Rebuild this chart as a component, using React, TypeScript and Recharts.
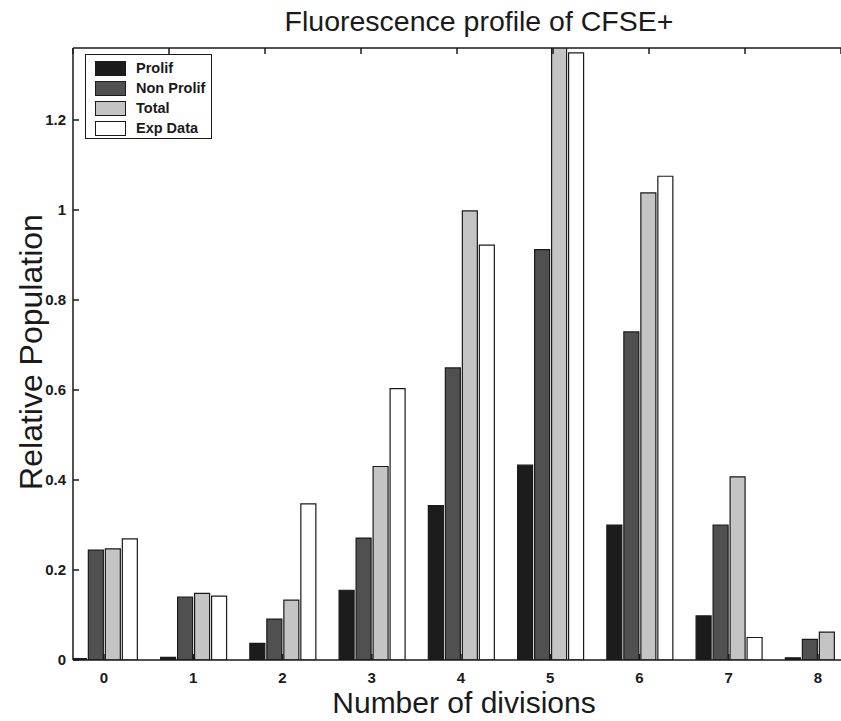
import { BarChart, Bar, XAxis, YAxis } from "recharts";

// values
const divisions = [0, 1, 2, 3, 4, 5, 6, 7, 8];
const prolif = [0.003, 0.006, 0.037, 0.155, 0.343, 0.433, 0.3, 0.098, 0.005];
const nonProlif = [0.244, 0.14, 0.091, 0.271, 0.649, 0.912, 0.729, 0.3, 0.046];
const total = [0.247, 0.148, 0.133, 0.43, 0.998, 1.38, 1.038, 0.407, 0.062];
const expData = [0.269, 0.142, 0.347, 0.603, 0.922, 1.349, 1.075, 0.05, 0];
const yTicks = [0, 0.2, 0.4, 0.6, 0.8, 1, 1.2];
const seriesNames = ["Prolif", "Non Prolif", "Total", "Exp Data"];

const keys = ["prolif", "nonProlif", "total", "expData"];
const fills = ["#1c1c1c", "#505050", "#c4c4c4", "#ffffff"];

const rows = divisions.map((d, i) => ({
  division: d,
  prolif: prolif[i],
  nonProlif: nonProlif[i],
  total: total[i],
  expData: expData[i],
}));

const FONT = '"Liberation Sans", Arial, Helvetica, sans-serif';
const X_DOMAIN: [number, number] = [-0.347, 8.258];
const INK = "#1a1a1a";
const tickStyle = { fontSize: 15, fontWeight: 700, fill: INK, fontFamily: FONT };

function LegendBox() {
  return (
    <div
      style={{
        position: "absolute",
        left: 85,
        top: 54,
        width: 127,
        height: 85,
        border: `1px solid ${INK}`,
        background: "#fff",
        padding: "3px 0 0 9px",
        fontSize: 14.5,
        fontWeight: 700,
        color: INK,
        boxSizing: "border-box",
        whiteSpace: "nowrap",
      }}
    >
      {seriesNames.map((n, i) => (
        <div key={n} style={{ display: "flex", alignItems: "center", height: 20 }}>
          <span
            style={{
              display: "inline-block",
              width: 29,
              height: 13,
              background: fills[i],
              border: `1px solid ${INK}`,
              marginRight: 10,
            }}
          />
          {n}
        </div>
      ))}
    </div>
  );
}

export default function App() {
  return (
    <div
      style={{
        position: "absolute",
        left: 0,
        top: 0,
        width: 841,
        height: 721,
        background: "#fff",
        overflow: "hidden",
        fontFamily: FONT,
      }}
    >
      <BarChart
        width={841}
        height={721}
        data={rows}
        margin={{ top: 18, right: 0, bottom: 31, left: 0 }}
        barSize={15}
        barGap={2}
      >
        <XAxis
          xAxisId="top"
          orientation="top"
          type="number"
          domain={X_DOMAIN}
          ticks={divisions}
          allowDataOverflow
          height={30}
          tickSize={-6}
          tickFormatter={() => ""}
          stroke={INK}
          strokeWidth={1.5}
        />
        <XAxis
          type="number"
          dataKey="division"
          domain={X_DOMAIN}
          ticks={divisions}
          allowDataOverflow
          height={30}
          tickSize={-6}
          tickMargin={18}
          stroke={INK}
          strokeWidth={1.5}
          tick={tickStyle}
        />
        <YAxis
          type="number"
          domain={[0, 1.36]}
          ticks={yTicks}
          allowDataOverflow
          width={73}
          tickSize={-6}
          tickMargin={13}
          stroke={INK}
          strokeWidth={1.5}
          tick={tickStyle}
        />
        {keys.map((k, i) => (
          <Bar
            key={k}
            dataKey={k}
            name={seriesNames[i]}
            fill={fills[i]}
            stroke={INK}
            strokeWidth={1.2}
            isAnimationActive={false}
          />
        ))}
      </BarChart>

      <div
        style={{
          position: "absolute",
          left: 229,
          top: 5,
          width: 500,
          textAlign: "center",
          fontSize: 28.5,
          lineHeight: "32px",
          color: INK,
        }}
      >
        Fluorescence profile of CFSE+
      </div>
      <div
        style={{
          position: "absolute",
          left: 214,
          top: 691,
          width: 500,
          textAlign: "center",
          fontSize: 30,
          lineHeight: "24px",
          color: INK,
        }}
      >
        Number of divisions
      </div>
      <div
        style={{
          position: "absolute",
          left: 31 - 200,
          top: 352 - 13,
          width: 400,
          textAlign: "center",
          fontSize: 32,
          lineHeight: "26px",
          color: INK,
          transform: "rotate(-90deg)",
        }}
      >
        Relative Population
      </div>
      <LegendBox />
    </div>
  );
}
